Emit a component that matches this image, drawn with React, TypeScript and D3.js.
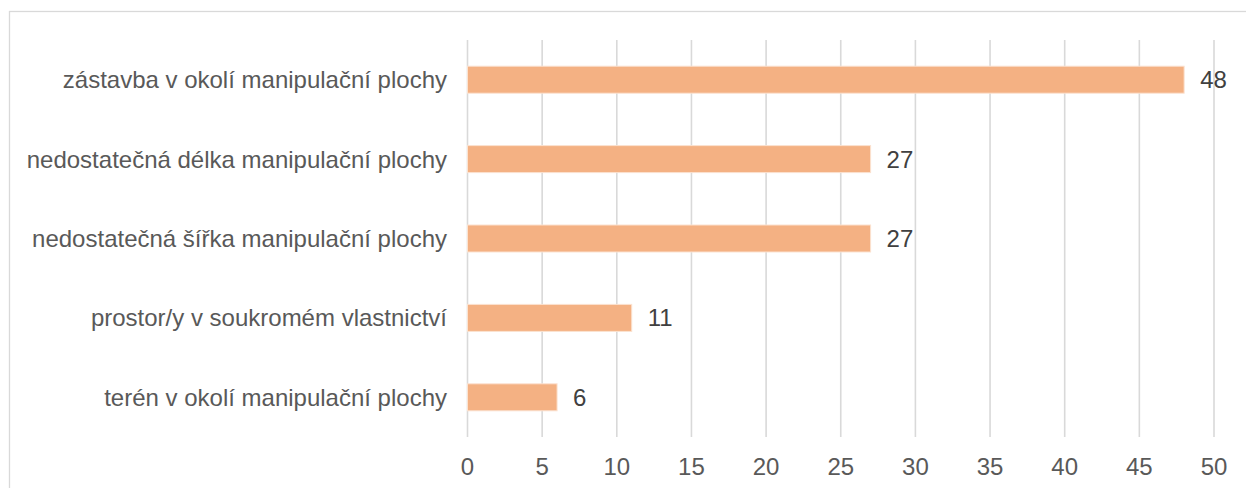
import React from "react";
import * as d3 from "d3";

const categories = [
  "zástavba v okolí manipulační plochy",
  "nedostatečná délka manipulační plochy",
  "nedostatečná šířka manipulační plochy",
  "prostor/y v soukromém vlastnictví",
  "terén v okolí manipulační plochy",
];
const values = [48, 27, 27, 11, 6];
const xTicks = [0, 5, 10, 15, 20, 25, 30, 35, 40, 45, 50];

const W = 1246;
const H = 488;
const plot = { left: 467.5, right: 1214, top: 40, bottom: 437 };
const font = "'Liberation Sans', Arial, sans-serif";
const fontSize = 24;

export default function App() {
  const x = d3.scaleLinear().domain([0, 50]).range([plot.left, plot.right]);
  const y = d3
    .scaleBand<string>()
    .domain(categories)
    .range([plot.top, plot.bottom])
    .paddingInner(0.66)
    .paddingOuter(0.33);

  return (
    <svg
      width={W}
      height={H}
      style={{ position: "absolute", left: 0, top: 0, display: "block" }}
    >
      <rect x={0} y={0} width={W} height={H} fill="#ffffff" />
      <rect
        x={9.5}
        y={11.5}
        width={W + 20}
        height={H + 20}
        fill="#ffffff"
        stroke="#d9d9d9"
        strokeWidth={1.3}
      />
      {xTicks.map((t) => (
        <line
          key={"g" + t}
          x1={x(t)}
          x2={x(t)}
          y1={plot.top}
          y2={plot.bottom}
          stroke="#d9d9d9"
          strokeWidth={1.6}
        />
      ))}
      {categories.map((c, i) => {
        const by = y(c)!;
        const bw = x(values[i]) - x(0);
        return (
          <g key={c}>
            <rect
              x={x(0)}
              y={by}
              width={bw}
              height={y.bandwidth()}
              fill="#f4b183"
              stroke="#fbe2d0"
              strokeWidth={1}
            />
            <text
              x={x(values[i]) + 16}
              y={by + y.bandwidth() / 2}
              dy="0.35em"
              fontFamily={font}
              fontSize={fontSize}
              fill="#404040"
            >
              {values[i]}
            </text>
            <text
              x={447}
              y={by + y.bandwidth() / 2}
              dy="0.35em"
              textAnchor="end"
              fontFamily={font}
              fontSize={fontSize}
              fill="#595959"
            >
              {c}
            </text>
          </g>
        );
      })}
      {xTicks.map((t) => (
        <text
          key={"t" + t}
          x={x(t)}
          y={467}
          dy="0.35em"
          textAnchor="middle"
          fontFamily={font}
          fontSize={fontSize}
          fill="#595959"
        >
          {t}
        </text>
      ))}
    </svg>
  );
}
